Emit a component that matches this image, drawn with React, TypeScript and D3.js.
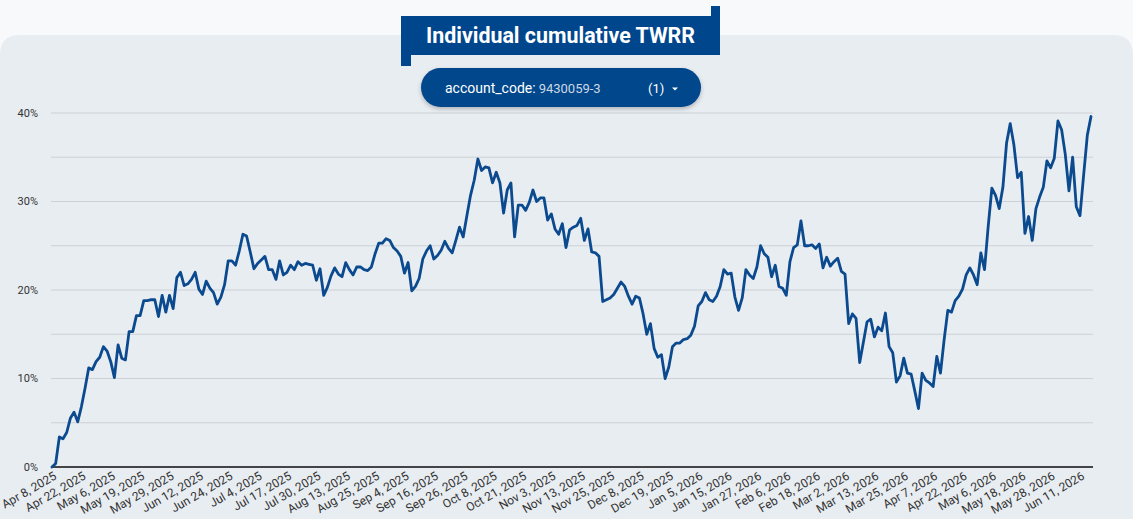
import React from "react";
import * as d3 from "d3";

const tickLabels = [
  "Apr 8, 2025", "Apr 22, 2025", "May 6, 2025", "May 19, 2025", "May 29, 2025", "Jun 12, 2025",
  "Jun 24, 2025", "Jul 4, 2025", "Jul 17, 2025", "Jul 30, 2025", "Aug 13, 2025", "Aug 25, 2025",
  "Sep 4, 2025", "Sep 16, 2025", "Sep 26, 2025", "Oct 8, 2025", "Oct 21, 2025", "Nov 3, 2025",
  "Nov 13, 2025", "Nov 25, 2025", "Dec 8, 2025", "Dec 19, 2025", "Jan 5, 2026", "Jan 15, 2026",
  "Jan 27, 2026", "Feb 6, 2026", "Feb 18, 2026", "Mar 2, 2026", "Mar 13, 2026", "Mar 25, 2026",
  "Apr 7, 2026", "Apr 22, 2026", "May 6, 2026", "May 18, 2026", "May 28, 2026", "Jun 11, 2026",
];
const tickEvery = 8;

// cumulative TWRR in percent, one value per trading day
const twrr = [
  0.0, 0.4, 3.4, 3.2, 3.9, 5.5, 6.2, 5.1, 6.8, 8.9,
  11.2, 11.0, 11.9, 12.4, 13.6, 13.1, 11.9, 10.1, 13.8, 12.3,
  12.1, 15.3, 15.3, 17.1, 17.1, 18.8, 18.8, 18.9, 18.9, 17.0,
  19.4, 17.5, 19.4, 17.9, 21.4, 22.0, 20.5, 20.7, 21.2, 22.0,
  20.1, 19.5, 21.0, 20.2, 19.7, 18.4, 19.2, 20.6, 23.3, 23.3,
  22.8, 24.4, 26.3, 26.1, 24.3, 22.4, 23.0, 23.4, 23.8, 22.3,
  22.3, 21.2, 23.3, 21.7, 22.0, 22.8, 22.3, 23.2, 22.8, 23.0,
  22.9, 22.8, 21.1, 22.4, 19.4, 20.3, 21.6, 22.5, 21.8, 21.5,
  23.1, 22.3, 21.7, 22.6, 22.6, 22.3, 22.2, 22.6, 24.1, 25.3,
  25.3, 25.8, 25.6, 24.8, 24.4, 23.8, 21.9, 23.1, 19.9, 20.4,
  21.3, 23.5, 24.4, 25.0, 23.5, 23.9, 24.5, 25.5, 24.7, 24.2,
  25.6, 27.1, 26.0, 28.4, 30.7, 32.4, 34.8, 33.5, 33.9, 33.8,
  32.1, 33.3, 32.1, 28.7, 31.3, 32.1, 26.0, 29.6, 29.6, 29.0,
  29.9, 31.3, 30.0, 30.4, 30.4, 27.9, 28.6, 26.9, 26.3, 27.5,
  24.8, 26.8, 27.1, 27.3, 28.1, 25.6, 26.9, 24.3, 24.2, 23.8,
  18.7, 18.9, 19.1, 19.5, 20.2, 20.9, 20.4, 19.3, 18.4, 19.3,
  19.1, 17.3, 15.0, 16.2, 13.4, 12.4, 12.7, 10.0, 11.3, 13.6,
  14.0, 14.0, 14.4, 14.5, 14.9, 15.9, 18.2, 18.7, 19.7, 18.9,
  18.7, 19.3, 20.4, 22.3, 21.8, 21.9, 19.2, 17.7, 19.1, 22.3,
  21.7, 21.3, 22.6, 25.0, 24.1, 23.7, 21.5, 22.8, 20.4, 20.2,
  19.4, 23.2, 24.8, 25.1, 27.8, 25.0, 25.0, 25.1, 24.7, 25.2,
  22.5, 23.7, 22.7, 23.2, 23.6, 22.1, 21.8, 16.2, 17.3, 16.8,
  11.8, 14.1, 16.4, 16.7, 14.7, 15.8, 15.4, 17.4, 13.6, 12.9,
  9.6, 10.3, 12.3, 10.6, 10.5, 8.6, 6.6, 10.6, 9.8, 9.5,
  9.1, 12.5, 10.6, 14.4, 17.7, 17.5, 18.8, 19.3, 20.1, 21.7,
  22.5, 21.7, 20.6, 24.2, 22.3, 27.2, 31.5, 30.7, 29.2, 31.6,
  36.6, 38.8, 36.4, 32.7, 33.3, 26.4, 28.3, 25.6, 29.2, 30.5,
  31.6, 34.6, 33.8, 34.9, 39.1, 38.1, 35.3, 31.2, 35.0, 29.4,
  28.4, 33.0, 37.5, 39.6,
];

const yLabelTicks = [0, 10, 20, 30, 40];
const yGridTicks = [0, 5, 10, 15, 20, 25, 30, 35, 40];

const W = 1133;
const H = 519;
const BLUE = "#00468c";
const LINE = "#0b4a8e";
const FONT = "Roboto, 'Noto Sans', sans-serif";

export default function App() {
  const x = d3.scaleLinear().domain([0, twrr.length - 1]).range([52, 1091]);
  const y = d3.scaleLinear().domain([0, 40]).range([467, 113]);
  const line = d3
    .line<number>()
    .x((_, i) => x(i))
    .y((d) => y(d));

  return (
    <svg
      width={W}
      height={H}
      style={{ position: "absolute", left: 0, top: 0, fontFamily: FONT }}
    >
      <defs>
        <filter id="pillShadow" x="-10%" y="-30%" width="120%" height="180%">
          <feDropShadow dx="0" dy="2" stdDeviation="2" floodColor="#000" floodOpacity="0.25" />
        </filter>
      </defs>
      <rect x={0} y={0} width={W} height={H} fill="#f8f9fb" />
      <path
        d={`M0,${35 + 20} Q0,35 20,35 L${W - 20},35 Q${W},35 ${W},${55} L${W},${H} L0,${H} Z`}
        fill="#e8edf2"
      />

      {/* gridlines */}
      {yGridTicks.map((t) => (
        <line key={t} x1={51} x2={1093} y1={y(t)} y2={y(t)} stroke="#cdd0d4" strokeWidth={1} />
      ))}
      {yLabelTicks.map((t) => (
        <text key={t} x={38} y={y(t)} dy="0.35em" textAnchor="end" fontSize={11} fill="#333">
          {t}%
        </text>
      ))}

      {/* x axis */}
      <line x1={51} x2={1093} y1={467} y2={467} stroke="#111" strokeWidth={1.5} />
      {tickLabels.map((lab, k) => {
        const xi = x(k * tickEvery);
        return (
          <text
            key={lab}
            transform={`translate(${xi + 1},${471}) rotate(-30)`}
            textAnchor="end"
            dy="0.72em"
            fontSize={12}
            fill="#333"
          >
            {lab}
          </text>
        );
      })}

      {/* series */}
      <path
        d={line(twrr) || ""}
        fill="none"
        stroke={LINE}
        strokeWidth={2.8}
        strokeLinejoin="round"
        strokeLinecap="round"
      />

      {/* title */}
      <rect x={711} y={6} width={9} height={12} fill={BLUE} />
      <rect x={401} y={53} width={10} height={13} fill={BLUE} />
      <rect x={401} y={16} width={319} height={39} fill={BLUE} />
      <text
        x={560.5}
        y={43}
        textAnchor="middle"
        fontSize={21.4}
        fontWeight="bold"
        fill="#fff"
      >
        Individual cumulative TWRR
      </text>

      {/* filter pill */}
      <rect x={421} y={68} width={280} height={39} rx={19.5} fill={BLUE} filter="url(#pillShadow)" />
      <text x={445} y={93} fontSize={14} fill="#fff">
        account_code:
        <tspan fontSize={13} fill="#cfd7e4" dx={3}>9430059-3</tspan>
      </text>
      <text x={648} y={93} fontSize={13} fill="#fff">(1)</text>
      <path d="M672,87.5 L678,87.5 L675,90.5 Z" fill="#fff" />
    </svg>
  );
}
